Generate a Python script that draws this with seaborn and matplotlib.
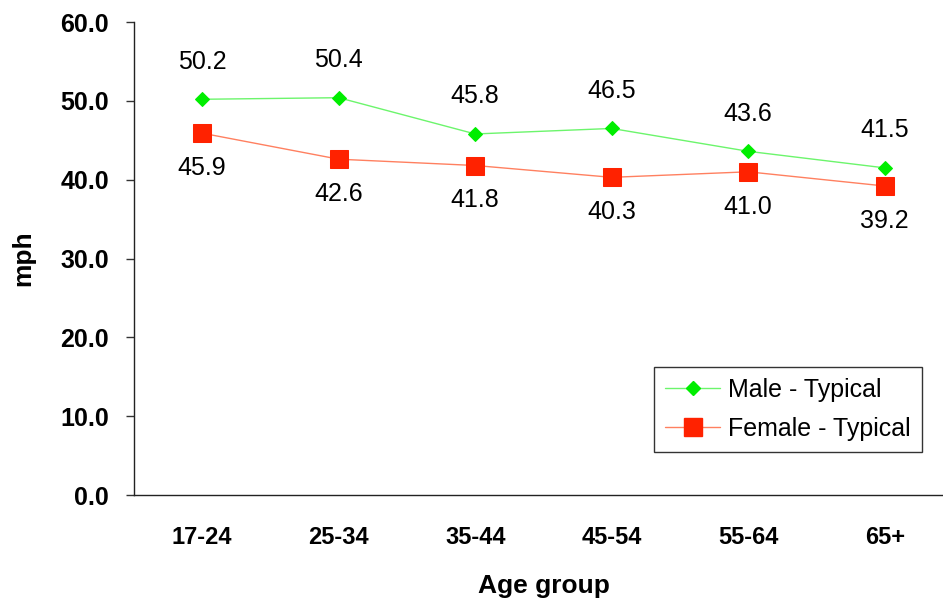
import matplotlib
matplotlib.use("Agg")
import matplotlib.pyplot as plt
import pandas as pd
import seaborn as sns

age_groups = ["17-24", "25-34", "35-44", "45-54", "55-64", "65+"]
male_typical = [50.2, 50.4, 45.8, 46.5, 43.6, 41.5]
female_typical = [45.9, 42.6, 41.8, 40.3, 41.0, 39.2]
series_names = ["Male - Typical", "Female - Typical"]

sns.set_style("white")
plt.rcParams['font.family'] = ['Liberation Sans', 'DejaVu Sans']
plt.rcParams['text.color'] = 'black'
plt.rcParams['axes.labelcolor'] = 'black'
plt.rcParams['xtick.color'] = 'black'
plt.rcParams['ytick.color'] = 'black'

data = pd.DataFrame({
    'Age group': age_groups * 2,
    'mph': male_typical + female_typical,
    'Series': [series_names[0]] * 6 + [series_names[1]] * 6,
})

figure = plt.figure(figsize=(9.43, 6.03), dpi=100)
axis = figure.add_axes([0.142, 0.179, 0.8686, 0.7845])

sns.lineplot(
    data=data,
    x='Age group',
    y='mph',
    hue='Series',
    style='Series',
    markers={series_names[0]: 'D', series_names[1]: 's'},
    dashes=False,
    palette={series_names[0]: '#6cf56c', series_names[1]: '#ff8060'},
    linewidth=1,
    legend=False,
    ax=axis)

# marker fills are brighter than the lines
lines = axis.get_lines()
lines[0].set_markerfacecolor('#00ee00')
lines[0].set_markeredgecolor('#00ee00')
lines[0].set_markersize(7)
lines[1].set_markerfacecolor('#ff2200')
lines[1].set_markeredgecolor('#ff2200')
lines[1].set_markersize(13)

for i, (m, f) in enumerate(zip(male_typical, female_typical)):
    axis.annotate(f"{m:.1f}", (i, m), xytext=(0, 27), textcoords='offset points',
                  ha='center', va='center', fontsize=18)
    axis.annotate(f"{f:.1f}", (i, f), xytext=(0, -25), textcoords='offset points',
                  ha='center', va='center', fontsize=18)

axis.set_xlim(-0.5, 5.5)
axis.set_ylim(0, 60)
axis.set_yticks(range(0, 61, 10))
axis.set_yticklabels([f"{v:.1f}" for v in range(0, 61, 10)], fontsize=18, fontweight='bold')
axis.set_xticks(range(6))
axis.set_xticklabels(age_groups, fontsize=17, fontweight='bold')
axis.set_xticks([i - 0.5 for i in range(7)], minor=True)
axis.tick_params(axis='x', which='major', length=0, pad=22)
axis.tick_params(axis='x', which='minor', length=7, width=1, direction='out', color='#333333')
axis.tick_params(axis='y', length=6, width=1, direction='out', left=True, color='#333333', pad=12)

for side in ['top', 'right']:
    axis.spines[side].set_visible(False)
for side in ['left', 'bottom']:
    axis.spines[side].set_color('#222222')
    axis.spines[side].set_linewidth(1)

axis.set_xlabel('Age group', fontsize=19, fontweight='bold', labelpad=18)
axis.set_ylabel('mph', fontsize=19, fontweight='bold', labelpad=18)

handles = [
    plt.Line2D([], [], color='#6cf56c', lw=1, marker='D', markersize=7,
               markerfacecolor='#00ee00', markeredgecolor='#00ee00'),
    plt.Line2D([], [], color='#ff8060', lw=1, marker='s', markersize=13,
               markerfacecolor='#ff2200', markeredgecolor='#ff2200'),
]
legend = axis.legend(handles, series_names, loc='lower right', bbox_to_anchor=(0.962, 0.091),
                     fontsize=18, frameon=True, fancybox=False, edgecolor='black',
                     handlelength=2.2, borderpad=0.45, labelspacing=0.6, handletextpad=0.3,
                     borderaxespad=0)
legend.get_frame().set_linewidth(1)

figure.savefig('out.png', dpi=100)
